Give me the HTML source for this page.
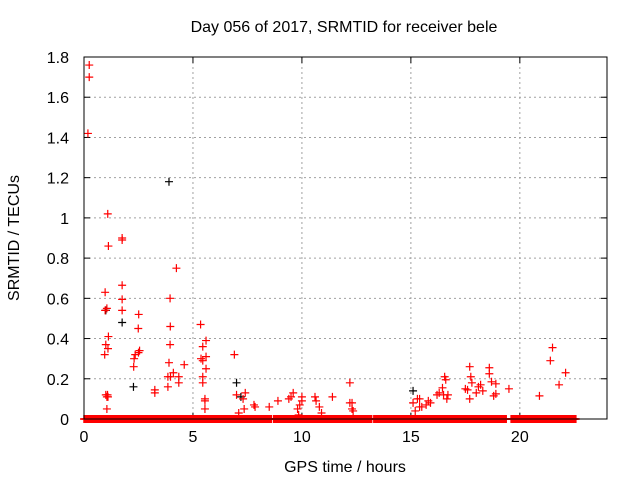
<!DOCTYPE html>
<html><head><meta charset="utf-8"><style>
body{margin:0;background:#fff}
svg{display:block;font-family:"Liberation Sans",sans-serif}
</style></head><body>
<svg id="c" width="640" height="480">
<text x="344" y="32" font-size="16" text-anchor="middle">Day 056 of 2017, SRMTID for receiver bele</text>
<text x="0" y="0" font-size="16" text-anchor="middle" transform="translate(19,238) rotate(-90)">SRMTID / TECUs</text>
<text x="345" y="472" font-size="16" text-anchor="middle">GPS time / hours</text>
<g id="grid"></g><g id="ticks"></g><g id="marks"></g>
<rect x="84" y="57" width="523" height="362" fill="none" stroke="#000" stroke-width="1"/>
</svg>
<script>
const xTicks=[0,5,10,15,20];
const yTicks=[0,0.2,0.4,0.6,0.8,1,1.2,1.4,1.6,1.8];
const yTickLabels=["0","0.2","0.4","0.6","0.8","1","1.2","1.4","1.6","1.8"];
const redTimes=[0.24,0.24,0.18,1.09,1.12,1.75,1.75,4.24,1.75,0.97,3.95,1.75,0.97,1.05,1.75,2.51,5.35,3.96,2.49,1.12,1.0,3.95,5.6,5.45,1.1,2.55,2.5,2.35,0.95,6.9,5.6,5.37,5.45,2.3,3.9,4.6,2.28,5.6,4.1,3.97,4.35,5.45,3.85,5.45,4.35,3.85,7.0,7.4,3.25,3.25,1.0,1.1,1.05,1.08,1.05,7.3,7.35,5.55,5.55,5.55,7.8,7.85,8.5,8.9,9.4,9.6,9.5,10.0,10.0,9.8,9.85,10.6,10.65,10.9,11.4,12.3,12.35,7.1,12.2,12.2,12.3,15.1,15.3,15.4,15.4,15.5,15.2,15.7,15.8,16.3,16.45,16.55,16.6,16.7,16.65,16.5,17.7,17.75,17.8,17.6,17.7,18.0,18.1,18.2,18.6,18.6,18.7,18.8,18.9,18.9,19.5,20.9,21.5,21.4,21.8,22.1,9.9,10.8,15.9,16.2,17.5,18.3];
const redValues=[1.76,1.70,1.42,1.02,0.86,0.90,0.89,0.75,0.665,0.63,0.60,0.595,0.54,0.55,0.54,0.52,0.47,0.46,0.45,0.41,0.37,0.37,0.39,0.36,0.35,0.34,0.33,0.32,0.32,0.32,0.31,0.30,0.29,0.30,0.28,0.27,0.26,0.25,0.23,0.21,0.21,0.21,0.21,0.18,0.18,0.16,0.12,0.13,0.145,0.13,0.12,0.11,0.11,0.12,0.05,0.10,0.05,0.10,0.09,0.05,0.07,0.06,0.06,0.09,0.10,0.13,0.11,0.11,0.09,0.05,0.02,0.11,0.09,0.03,0.11,0.08,0.04,0.03,0.18,0.08,0.05,0.08,0.10,0.10,0.06,0.06,0.04,0.07,0.09,0.13,0.155,0.21,0.195,0.12,0.10,0.12,0.26,0.21,0.18,0.145,0.10,0.13,0.16,0.17,0.255,0.225,0.185,0.115,0.175,0.125,0.15,0.115,0.355,0.29,0.17,0.23,0.07,0.06,0.08,0.12,0.15,0.14];
const blackTimes=[3.9,7.0,2.27,1.75,15.1,19.3,19.8,1.0,7.2];
const blackValues=[1.18,0.18,0.16,0.48,0.14,0.0,0.0,0.54,0.11];
const zeroSegments=[[0,8.6],[8.7,13.2],[13.3,19.4],[19.6,22.6]];
const zeroStep=0.045;

const X0=84,X1=607,Y0=419,Y1=57,XMAX=24,YMAX=1.8;
const xs=v=>X0+v/XMAX*(X1-X0);
const ys=v=>Y0-v/YMAX*(Y0-Y1);
const NS="http://www.w3.org/2000/svg";
const mk=(t,a,p)=>{const e=document.createElementNS(NS,t);for(const k in a)e.setAttribute(k,a[k]);p.appendChild(e);return e;};
const grid=document.getElementById('grid'),ticks=document.getElementById('ticks'),marks=document.getElementById('marks');
xTicks.forEach(t=>{
 const x=xs(t);
 if(t>0){const g=mk('line',{x1:x,y1:Y0,x2:x,y2:Y1,stroke:'#a0a0a0','stroke-dasharray':'2,3'},grid);
 
 }
 mk('line',{x1:x,y1:Y0,x2:x,y2:Y0-6,stroke:'#000'},ticks);
 mk('line',{x1:x,y1:Y1,x2:x,y2:Y1+6,stroke:'#000'},ticks);
 const l=mk('text',{x:x,y:Y0+23,'font-size':16,'text-anchor':'middle'},ticks);l.textContent=t;
 
 
});
yTicks.forEach((t,i)=>{
 const y=ys(t);
 if(t>0&&t<YMAX){const g=mk('line',{x1:X0,y1:y,x2:X1,y2:y,stroke:'#a0a0a0','stroke-dasharray':'2,3'},grid);
 
 }
 mk('line',{x1:X0,y1:y,x2:X0+6,y2:y,stroke:'#000'},ticks);
 mk('line',{x1:X1,y1:y,x2:X1-6,y2:y,stroke:'#000'},ticks);
 const l=mk('text',{x:X0-15,y:y+6,'font-size':16,'text-anchor':'end'},ticks);l.textContent=yTickLabels[i];
 
 
});
function cross(t,v,c,name,w){
 const x=xs(t),y=ys(v);
 const p=mk('path',{d:`M${x-4},${y}H${x+4}M${x},${y-4}V${y+4}`,stroke:c,'stroke-width':w,fill:'none'},marks);
 
 
}
blackTimes.forEach((t,i)=>cross(t,blackValues[i],'#000','black-point',1.2));
zeroSegments.forEach(s=>{for(let t=s[0];t<=s[1];t+=zeroStep)cross(t,0,'#f00','zero-point',1.5);});
redTimes.forEach((t,i)=>cross(t,redValues[i],'#f00','red-point',1.2));
</script>
</body></html>
